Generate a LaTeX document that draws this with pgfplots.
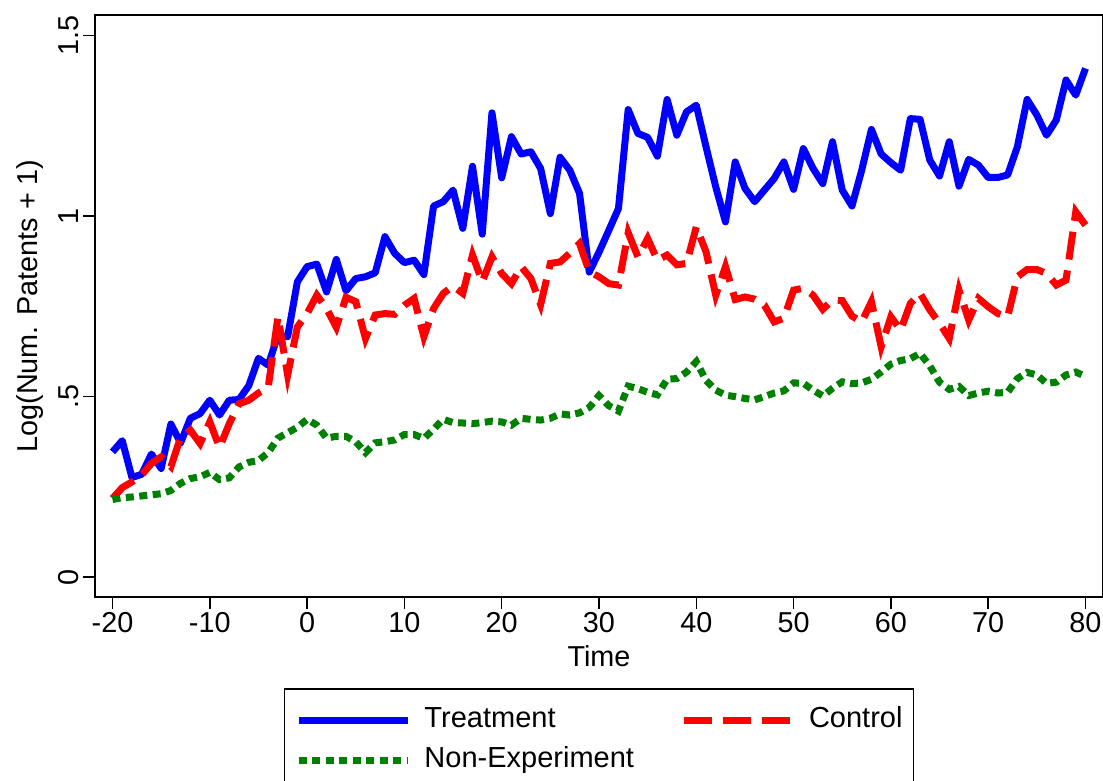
\documentclass[border=0pt]{standalone}
\usepackage{fontspec}
\setmainfont{Liberation Sans}
\usepackage{pgfplots}
\usepackage{pgfplotstable}
\pgfplotsset{compat=1.18}

\definecolor{stblue}{RGB}{0,0,255}
\definecolor{stred}{RGB}{255,0,0}
\definecolor{stgreen}{RGB}{0,128,0}

% t  treatment  control  nonexp
\pgfplotstableread{
t   treat  ctrl   nonexp
-20 0.347  0.218  0.215
-19 0.378  0.248  0.220
-18 0.276  0.264  0.222
-17 0.285  0.283  0.225
-16 0.341  0.315  0.228
-15 0.301  0.333  0.231
-14 0.424  0.306  0.240
-13 0.372  0.387  0.260
-12 0.440  0.407  0.273
-11 0.453  0.370  0.278
-10 0.490  0.430  0.290
-9  0.449  0.359  0.270
-8  0.490  0.425  0.275
-7  0.492  0.480  0.305
-6  0.530  0.490  0.318
-5  0.606  0.510  0.323
-4  0.587  0.525  0.345
-3  0.670  0.721  0.385
-2  0.666  0.560  0.400
-1  0.818  0.693  0.415
0   0.860  0.730  0.437
1   0.867  0.781  0.421
2   0.790  0.744  0.385
3   0.880  0.692  0.390
4   0.793  0.775  0.390
5   0.827  0.763  0.375
6   0.832  0.661  0.345
7   0.843  0.726  0.372
8   0.943  0.730  0.375
9   0.897  0.728  0.380
10  0.871  0.753  0.395
11  0.878  0.772  0.395
12  0.838  0.666  0.384
13  1.028  0.744  0.410
14  1.040  0.786  0.437
15  1.072  0.806  0.428
16  0.966  0.786  0.427
17  1.138  0.892  0.425
18  0.950  0.818  0.428
19  1.286  0.887  0.432
20  1.106  0.841  0.430
21  1.220  0.813  0.421
22  1.172  0.860  0.440
23  1.178  0.827  0.437
24  1.132  0.755  0.435
25  1.007  0.869  0.440
26  1.163  0.873  0.452
27  1.127  0.897  0.449
28  1.063  0.924  0.455
29  0.845  0.846  0.470
30  0.900  0.832  0.503
31  0.960  0.813  0.475
32  1.021  0.809  0.460
33  1.295  0.954  0.529
34  1.229  0.887  0.522
35  1.218  0.938  0.512
36  1.166  0.878  0.505
37  1.323  0.892  0.548
38  1.224  0.865  0.550
39  1.289  0.869  0.568
40  1.307  0.970  0.597
41  1.192  0.901  0.545
42  1.081  0.781  0.518
43  0.984  0.860  0.504
44  1.150  0.769  0.500
45  1.077  0.776  0.495
46  1.040  0.770  0.491
47  1.072  0.753  0.500
48  1.104  0.707  0.510
49  1.150  0.717  0.516
50  1.074  0.795  0.538
51  1.187  0.800  0.537
52  1.132  0.781  0.518
53  1.090  0.742  0.502
54  1.206  0.767  0.523
55  1.072  0.766  0.541
56  1.028  0.723  0.536
57  1.127  0.707  0.538
58  1.240  0.763  0.548
59  1.172  0.638  0.568
60  1.148  0.721  0.590
61  1.127  0.684  0.600
62  1.270  0.758  0.605
63  1.268  0.786  0.620
64  1.155  0.740  0.585
65  1.111  0.703  0.540
66  1.206  0.661  0.520
67  1.083  0.795  0.528
68  1.157  0.712  0.503
69  1.141  0.772  0.510
70  1.107  0.749  0.515
71  1.107  0.730  0.510
72  1.114  0.721  0.512
73  1.192  0.832  0.550
74  1.323  0.852  0.567
75  1.280  0.852  0.560
76  1.224  0.841  0.537
77  1.266  0.809  0.540
78  1.377  0.823  0.560
79  1.335  1.012  0.568
80  1.409  0.975  0.556
}\patents

\begin{document}
\begin{tikzpicture}
\begin{axis}[
    at={(0,0)}, anchor=south west,
    scale only axis,
    width=504pt, height=291pt,
    xmin=-21.8, xmax=81.8,
    ymin=-0.055, ymax=1.557,
    axis line style={line width=0.75pt, black},
    tick style={line width=0.75pt, black},
    tick align=outside,
    major tick length=6pt,
    xtick pos=bottom, ytick pos=left,
    xtick={-20,-10,0,10,20,30,40,50,60,70,80},
    xticklabels={-20,-10,0,10,20,30,40,50,60,70,80},
    ytick={0,0.5,1,1.5},
    yticklabels={0,.5,1,1.5},
    ticklabel style={font=\fontsize{14.4}{17}\selectfont},
    xticklabel style={anchor=north, yshift=2pt},
    yticklabel style={rotate=90, anchor=south, yshift=-1.5pt},
    xlabel={Time},
    ylabel={Log(Num. Patents + 1)},
    label style={font=\fontsize{14.4}{17}\selectfont},
    xlabel style={at={(axis description cs:0.5,0)}, anchor=center, yshift=-29.5pt},
    ylabel style={at={(axis description cs:0,0.5)}, anchor=center, yshift=32.5pt},
    legend columns=2,
    legend image code/.code={\draw[#1] (0pt,0pt) -- (54.5pt,0pt);},
    legend cell align=left,
    legend style={
        at={(0.5,0)}, anchor=north, yshift=-45.5pt,
        draw=black, line width=0.75pt,
        font=\fontsize{14.5}{17}\selectfont,
        inner xsep=5.5pt, inner ysep=9pt,
        row sep=6.5pt,
        nodes={inner sep=0pt, text height=10.5pt, text depth=3pt},
        /tikz/every odd column/.append style={column sep=6.5pt},
        /tikz/every even column/.append style={column sep=23pt},
    },
]
\addplot[stblue, line width=3.5pt, line join=round] table[x=t, y=treat] {\patents};
\addlegendentry{Treatment}
\addplot[stred, line width=3.5pt, dash pattern=on 14pt off 5.5pt] table[x=t, y=ctrl] {\patents};
\addlegendentry{Control}
\addplot[stgreen, line width=3.5pt, dash pattern=on 4pt off 2.75pt] table[x=t, y=nonexp] {\patents};
\addlegendentry{Non-Experiment}
\end{axis}
\pgfresetboundingbox
\useasboundingbox (-47.5pt,-92pt) rectangle (504pt,298.5pt);
\end{tikzpicture}
\end{document}
